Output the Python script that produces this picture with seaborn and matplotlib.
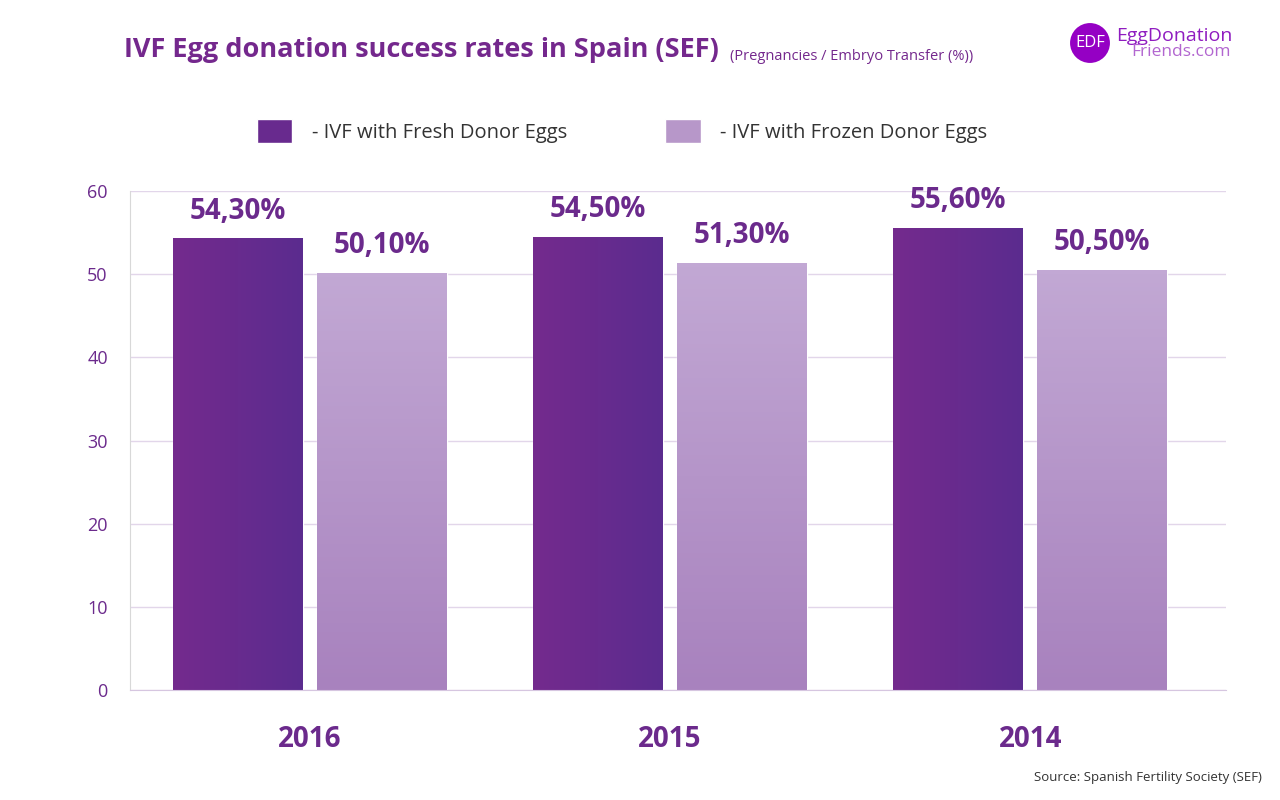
import numpy as np
import pandas as pd
import matplotlib
matplotlib.use("Agg")
import matplotlib.pyplot as plt
from matplotlib.colors import LinearSegmentedColormap
from matplotlib.patches import Patch
import seaborn as sns

# data
years = ["2016", "2015", "2014"]
fresh = [54.3, 54.5, 55.6]
frozen = [50.1, 51.3, 50.5]
series_names = ["- IVF with Fresh Donor Eggs", "- IVF with Frozen Donor Eggs"]

df = pd.DataFrame({
    "year": years * 2,
    "rate": fresh + frozen,
    "type": [series_names[0]] * 3 + [series_names[1]] * 3,
})

PURPLE = "#6b2a8c"
FRESH = "#682a8e"
FROZEN = "#b797c9"

sns.set_style("white")
plt.rcParams["font.family"] = ["Open Sans", "DejaVu Sans"]

fig = plt.figure(figsize=(12.8, 8), dpi=100)
ax = fig.add_axes([130 / 1280, 110 / 800, 1096 / 1280, 499 / 800])

sns.barplot(data=df, x="year", y="rate", hue="type", order=years,
            hue_order=series_names, palette=[FRESH, FROZEN],
            width=0.8, gap=0.1, ax=ax, legend=False, saturation=1)

ax.grid(axis="y", color="#e2d6ea", linewidth=1)
ax.set_axisbelow(True)
for s in ["top", "right"]:
    ax.spines[s].set_visible(False)
ax.spines["left"].set_color("#d8d8d8")
ax.spines["bottom"].set_color("#d6c6e0")

# gradient fill on the bars
cm_fresh = LinearSegmentedColormap.from_list("f", ["#742a8d", "#5b2c8f"])
cm_frozen = LinearSegmentedColormap.from_list("z", ["#c2a8d4", "#a882be"])
for p in list(ax.patches):
    x0, y0 = p.get_x(), p.get_y()
    w, h = p.get_width(), p.get_height()
    if h <= 0:
        continue
    if p.get_facecolor()[0] < 0.6:
        grad = np.linspace(0, 1, 100).reshape(1, -1)
        cmap = cm_fresh
    else:
        grad = np.linspace(0, 1, 100).reshape(-1, 1)
        cmap = cm_frozen
    im = ax.imshow(grad, cmap=cmap, extent=(x0, x0 + w, y0, y0 + h),
                   origin="upper", aspect="auto", zorder=p.get_zorder() + 0.1)
    im.set_clip_path(p)
    ax.text(x0 + w / 2, h + 1.55, f"{h:.2f}%".replace(".", ","),
            ha="center", va="bottom", fontsize=20, fontweight="bold",
            color=PURPLE)

ax.set_xlim(-0.5, 2.544)
ax.set_ylim(0, 60)
ax.set_yticks(range(0, 61, 10))
ax.set_xlabel("")
ax.set_ylabel("")
ax.tick_params(axis="y", direction="in", length=27, color="#dcc4de",
               pad=-2, labelsize=13, labelcolor=PURPLE)
for lab in ax.get_yticklabels():
    lab.set_x(-25 / 1096)
ax.tick_params(axis="x", length=0, pad=25, labelsize=20)
for lab in ax.get_xticklabels():
    lab.set_fontweight("bold")
    lab.set_color(PURPLE)
ax.set_xticks([0.5, 1.5, 2.5], minor=True)
ax.tick_params(axis="x", which="minor", direction="in", length=12,
               color="#d8d8d8", width=1)

# title + subtitle right after it
title = fig.text(124 / 1280, 1 - 50 / 800,
                 "IVF Egg donation success rates in Spain (SEF)",
                 fontsize=19.5, fontweight="bold", color="#74288d", va="center")
renderer = fig.canvas.get_renderer()
tb = title.get_window_extent(renderer)
fig.text((tb.x1 + 11) / 1280, 1 - 57 / 800, "(Pregnancies / Embryo Transfer (%))",
         fontsize=10.5, color="#74288d", va="center")

# logo
fig.text(1090 / 1280, 1 - 43 / 800, "EDF", color="white", fontsize=12,
         ha="center", va="center",
         bbox=dict(boxstyle="circle,pad=0.3", fc="#9500c4", ec="none"))
fig.text(1116 / 1280, 1 - 36 / 800, "EggDonation", color="#8f1cc0",
         fontsize=14, va="center")
fig.text(1231 / 1280, 1 - 52 / 800, "Friends.com", color="#b266d0",
         fontsize=12.5, va="center", ha="right")

# legend
handles = [Patch(facecolor=FRESH), Patch(facecolor=FROZEN)]
fig.legend(handles, series_names, loc="center left",
           bbox_to_anchor=(239 / 1280, 1 - 131 / 800), ncol=2, frameon=False,
           fontsize=14.5, handlelength=1.75, handleheight=1.5,
           columnspacing=4.9, handletextpad=0.95, labelcolor="#333333")

fig.text(1262 / 1280, 1 - 778 / 800, "Source: Spanish Fertility Society (SEF)",
         fontsize=9.5, color="#333333", ha="right", va="center")

fig.savefig("out.png", dpi=100)
